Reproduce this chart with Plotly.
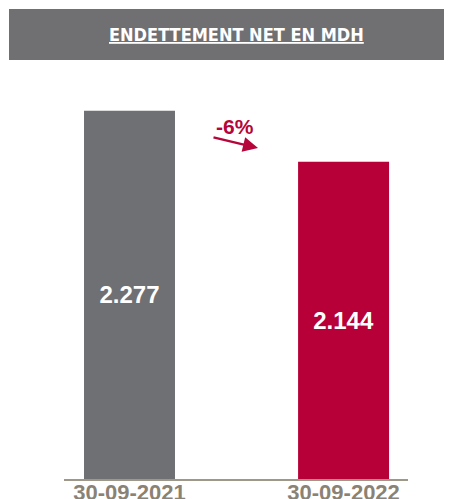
import plotly.graph_objects as go

categories = ["30-09-2021", "30-09-2022"]
values = [2277, 2144]
value_labels = ["2.277", "2.144"]
bar_colors = ["#6f7074", "#b70037"]
title_text = "ENDETTEMENT NET EN MDH"
change_label = "-6%"

# page offset (body margin) is 8px
OFF = 8
W, H = 452 - OFF, 499 - OFF
L, R, T, B = 56, 44, 71, 20
pw, ph = W - L - R, H - T - B

def px(x):
    return (x - OFF - L) / pw

def py(y):
    return (H - B - (y - OFF)) / ph

y_min, y_max = 1317, 2360

fig = go.Figure(go.Bar(
    x=[0, 1], y=[v - y_min for v in values], base=y_min, width=0.425,
    marker=dict(color=bar_colors, line=dict(width=0)),
    text=value_labels, textposition="inside", insidetextanchor="middle",
    textangle=0,
    textfont=dict(family="Liberation Sans", size=24, color="white", weight="bold"),
    hoverinfo="skip",
))

fig.update_layout(
    width=W, height=H,
    margin=dict(l=L, r=R, t=T, b=B, autoexpand=False),
    paper_bgcolor="white", plot_bgcolor="white",
    showlegend=False,
    xaxis=dict(range=[-0.306, 1.301], tickvals=[0, 1], ticktext=categories,
               showgrid=False, zeroline=False, showline=True, linecolor="#9e9888",
               linewidth=2, ticks="", fixedrange=True, automargin=False,
               ticklabelstandoff=-7,
               tickfont=dict(family="Liberation Sans", size=22, color="#8a8274", weight="bold")),
    yaxis=dict(range=[y_min, y_max], visible=False, fixedrange=True, automargin=False),
    shapes=[dict(type="rect", xref="paper", yref="paper",
                 x0=px(9), x1=px(452), y0=py(60), y1=py(9),
                 fillcolor="#707073", line=dict(width=0), layer="below")],
    annotations=[
        dict(xref="paper", yref="paper", x=px(236), y=py(35), text=title_text,
             showarrow=False, xanchor="center", yanchor="middle",
             font=dict(family="DejaVu Sans Condensed", size=18, color="white",
                       weight="bold", lineposition="under")),
        dict(xref="paper", yref="paper", x=px(258), y=py(148), ax=-46, ay=-11,
             text="", showarrow=True, arrowhead=2, arrowsize=1.2, arrowwidth=2.5,
             arrowcolor="#b5053a"),
        dict(xref="paper", yref="paper", x=px(235), y=py(126), text=change_label,
             showarrow=False, xanchor="center", yanchor="middle",
             font=dict(family="Liberation Sans", size=21, color="#b5053a", weight="bold")),
    ],
)

fig.write_html("out.html")
